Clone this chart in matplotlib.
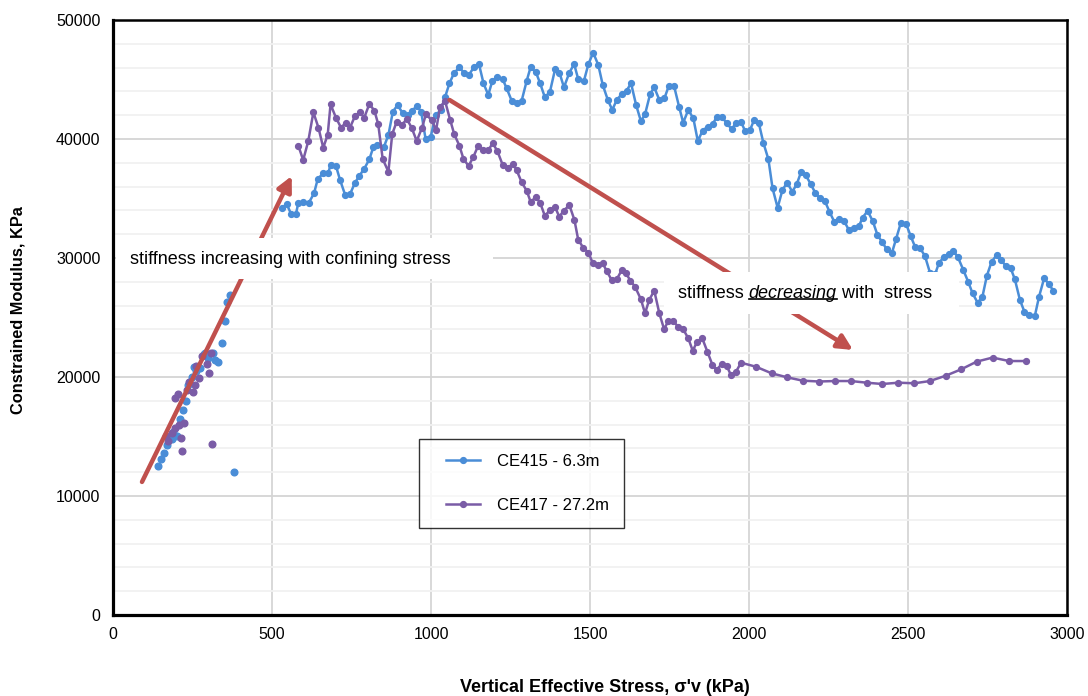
import matplotlib
matplotlib.use("Agg")
import matplotlib.pyplot as plt
from matplotlib.patches import Rectangle
from matplotlib.lines import Line2D
from matplotlib.legend_handler import HandlerLine2D
from matplotlib.ticker import MultipleLocator

plt.rcParams['font.family'] = ['Liberation Sans', 'DejaVu Sans']

# CE415 - 6.3m : continuous profile (stress kPa, constrained modulus kPa)
ce415_x = [530, 546, 560, 575, 583, 598, 616, 632, 644, 661, 677, 684, 701, 714, 730, 745, 761, 775,
           790, 806, 819, 831, 852, 866, 880, 895, 911, 927, 941, 955, 969, 983, 999, 1015, 1031, 1044,
           1058, 1072, 1089, 1105, 1119, 1136, 1151, 1165, 1180, 1193, 1209, 1225, 1238, 1254, 1269,
           1285, 1301, 1313, 1330, 1343, 1358, 1374, 1390, 1404, 1418, 1435, 1450, 1463, 1481, 1495,
           1510, 1526, 1540, 1556, 1570, 1584, 1600, 1615, 1629, 1645, 1660, 1673, 1689, 1702, 1718,
           1734, 1748, 1764, 1780, 1793, 1809, 1825, 1839, 1854, 1870, 1886, 1898, 1914, 1930, 1946,
           1959, 1975, 1987, 2003, 2016, 2031, 2045, 2061, 2074, 2090, 2105, 2120, 2136, 2150, 2164,
           2178, 2194, 2208, 2223, 2239, 2253, 2268, 2284, 2299, 2314, 2331, 2346, 2357, 2373, 2389,
           2404, 2419, 2433, 2449, 2462, 2477, 2494, 2508, 2522, 2538, 2553, 2569, 2585, 2597, 2613,
           2629, 2643, 2657, 2674, 2690, 2703, 2719, 2734, 2748, 2763, 2779, 2792, 2807, 2823, 2836,
           2852, 2866, 2882, 2899, 2912, 2928, 2943, 2957]
ce415_m = [34175, 34536, 33696, 33696, 34650, 34730, 34650, 35430, 36660, 37110, 37170, 37810, 37730,
           36550, 35290, 35350, 36330, 36920, 37500, 38290, 39350, 39520, 39350, 40340, 42300, 42850,
           42160, 42020, 42380, 42770, 42300, 39970, 40190, 42020, 42430, 43500, 44680, 45520, 46020,
           45520, 45380, 46080, 46270, 44680, 43700, 44900, 45180, 45040, 44250, 43190, 42990, 43210,
           44900, 46020, 45600, 44680, 43500, 43970, 45850, 45570, 44340, 45570, 46300, 45020, 44900,
           46300, 47250, 46220, 44540, 43280, 42440, 43280, 43780, 44060, 44680, 42850, 41500, 42070,
           43780, 44340, 43280, 43420, 44480, 44480, 42720, 41370, 42440, 41730, 39830, 40700, 41030,
           41260, 41820, 41880, 41320, 40810, 41370, 41450, 40700, 40750, 41590, 41320, 39690, 38290,
           35860, 34220, 35710, 36330, 35570, 36190, 37250, 36970, 36220, 35490, 35010, 34760, 33890,
           33050, 33280, 33110, 32350, 32490, 32690, 33390, 33950, 33110, 31930, 31320, 30730, 30390,
           31570, 32910, 32860, 31870, 30950, 30810, 30190, 28770, 28630, 29550, 30110, 30310, 30590,
           30060, 28990, 27950, 27030, 26240, 26740, 28510, 29690, 30250, 29830, 29360, 29130, 28210,
           26470, 25490, 25210, 25150, 26740, 28290, 27810, 27250]

# CE415 - 6.3m : shallow readings (points only)
ce415_pts_x = [140, 150, 160, 171, 185, 190, 200, 210, 219, 230, 237, 247, 255, 262, 274, 285, 290,
               300, 313, 321, 331, 342, 352, 359, 368, 380]
ce415_pts_m = [12550, 13080, 13590, 14290, 14800, 15400, 15070, 16500, 17230, 17980, 19330, 20030,
               20800, 20500, 20730, 21900, 22000, 21570, 21990, 21430, 21230, 22830, 24730, 26280,
               26890, 11990]

# CE417 - 27.2m : continuous profile
ce417_x = [583, 598, 614, 630, 646, 661, 675, 684, 701, 717, 732, 745, 761, 777, 790, 806, 822, 834,
           848, 866, 878, 892, 908, 924, 939, 955, 971, 984, 1002, 1016, 1028, 1044, 1060, 1073, 1089,
           1102, 1118, 1133, 1148, 1164, 1180, 1194, 1209, 1225, 1241, 1257, 1269, 1285, 1301, 1313,
           1330, 1343, 1358, 1374, 1390, 1403, 1418, 1435, 1451, 1463, 1479, 1495, 1509, 1524, 1540,
           1552, 1568, 1584, 1600, 1613, 1627, 1642, 1660, 1673, 1686, 1702, 1718, 1733, 1746, 1762,
           1778, 1793, 1809, 1823, 1837, 1853, 1869, 1885, 1898, 1914, 1930, 1943, 1959, 1975, 2022,
           2071, 2120, 2169, 2220, 2270, 2320, 2370, 2419, 2470, 2520, 2569, 2619, 2667, 2716, 2766,
           2818, 2870]
ce417_m = [39410, 38230, 39830, 42240, 40950, 39270, 40340, 42910, 41790, 40950, 41370, 40950, 41930,
           42240, 41790, 42940, 42380, 41230, 38320, 37250, 40420, 41450, 41170, 41680, 40950, 39830,
           40900, 42070, 41590, 40750, 42650, 43200, 41620, 40400, 39450, 38330, 37730, 38480, 39420,
           39040, 39040, 39660, 38960, 37840, 37530, 37920, 37390, 36360, 35650, 34730, 35100, 34650,
           33530, 34030, 34310, 33470, 33980, 34450, 33190, 31510, 30860, 30440, 29550, 29410, 29550,
           28930, 28150, 28210, 28990, 28710, 28100, 27560, 26530, 25350, 26470, 27250, 25350, 24010,
           24700, 24700, 24180, 24010, 23250, 22210, 22970, 23250, 22130, 21010, 20590, 21090, 20920,
           20170, 20440, 21200, 20860, 20310, 19970, 19690, 19620, 19660, 19660, 19520, 19410, 19520,
           19470, 19660, 20110, 20640, 21290, 21630, 21340, 21340]

# CE417 - 27.2m : shallow readings (points only)
ce417_pts_x = [167, 174, 185, 195, 208, 223, 213, 216, 195, 205, 232, 239, 251, 258, 261, 271, 279,
               294, 302, 307, 312]
ce417_pts_m = [15040, 14650, 15330, 15690, 15970, 16110, 14850, 13780, 18210, 18570, 18910, 19550,
               18770, 19330, 20950, 19890, 21760, 21090, 20310, 21990, 14370]

# Trend arrows (stress, modulus): tail -> head
trend_up = [(91, 11180), (562, 36890)]
trend_down = [(1058, 43280), (2327, 22270)]

BLUE = '#4A8DD7'
PURPLE = '#7A5CA6'
RED = '#C0504D'

fig = plt.figure(figsize=(10.88, 6.96), dpi=100)
ax = fig.add_axes([0.1039, 0.1164, 0.8768, 0.8549])

ax.set_xlim(0, 3000)
ax.set_ylim(0, 50000)
ax.xaxis.set_major_locator(MultipleLocator(500))
ax.yaxis.set_major_locator(MultipleLocator(10000))
ax.yaxis.set_minor_locator(MultipleLocator(2000))
ax.set_axisbelow(True)
ax.grid(axis='x', which='major', color='#D6D6D6', lw=1.3)
ax.grid(axis='y', which='major', color='#D4D4D4', lw=1.3)
ax.grid(axis='y', which='minor', color='#F1F1F1', lw=1.3)
ax.tick_params(which='both', length=0)
ax.tick_params(axis='y', pad=9, labelsize=11.5)
ax.tick_params(axis='x', pad=9, labelsize=11.5)
for side in ['left', 'bottom']:
    ax.spines[side].set_linewidth(2.3)
for side in ['top', 'right']:
    ax.spines[side].set_linewidth(1.8)
for s in ax.spines.values():
    s.set_color('black')

ms = 4.2
ax.plot(ce415_x, ce415_m, color=BLUE, lw=1.8, marker='o', ms=ms, label='CE415 - 6.3m', zorder=3)
ax.plot(ce417_x, ce417_m, color=PURPLE, lw=1.8, marker='o', ms=ms, label='CE417 - 27.2m', zorder=3)
ax.plot(ce415_pts_x, ce415_pts_m, ls='none', marker='o', ms=ms + 0.6, color=BLUE, zorder=3)
ax.plot(ce417_pts_x, ce417_pts_m, ls='none', marker='o', ms=ms + 0.6, color=PURPLE, zorder=3)

for tail, head in (trend_up, trend_down):
    ax.annotate('', xy=head, xytext=tail,
                arrowprops=dict(arrowstyle='-|>,head_length=0.9,head_width=0.45',
                                color=RED, lw=3.2, shrinkA=0, shrinkB=0),
                zorder=4)

# Text boxes
ax.add_patch(Rectangle((0.003, 0.565), 0.395, 0.069, transform=ax.transAxes,
                       facecolor='white', edgecolor='none', zorder=5))
ax.text(0.0178, 0.598, 'stiffness increasing with confining stress', transform=ax.transAxes,
        fontsize=13, va='center', ha='left', zorder=6)

ax.add_patch(Rectangle((0.578, 0.506), 0.309, 0.070, transform=ax.transAxes,
                       facecolor='white', edgecolor='none', zorder=5))
t1 = ax.text(0.592, 0.541, 'stiffness ', transform=ax.transAxes,
             fontsize=13, va='center', ha='left', zorder=6)
t2 = ax.annotate('decreasing', xy=(1, 0), xycoords=t1, va='bottom', ha='left',
                 fontsize=13, style='italic', zorder=6)
t3 = ax.annotate(' with  stress', xy=(1, 0), xycoords=t2, va='bottom', ha='left',
                 fontsize=13, zorder=6)

ax.set_xlabel("Vertical Effective Stress, σ'v (kPa)", fontsize=13, fontweight='bold')
ax.set_ylabel('Constrained Modulus, KPa', fontsize=11.8, fontweight='bold')
ax.xaxis.set_label_coords(0.516, -0.1227)
ax.yaxis.set_label_coords(-0.0996, 0.5126)
ax.xaxis.label.set_va('center')
ax.yaxis.label.set_va('center')

leg = ax.legend(loc='upper left', bbox_to_anchor=(0.321, 0.296), borderaxespad=0,
                fontsize=12, frameon=True, fancybox=False, numpoints=1,
                handler_map={Line2D: HandlerLine2D(xpad=0.72)},
                handlelength=2.77, handletextpad=1.0, labelspacing=1.73, borderpad=0.9)
leg.get_frame().set_edgecolor('black')
leg.get_frame().set_linewidth(1.0)

# underline the italic word
fig.canvas.draw()
r = fig.canvas.get_renderer()
bb = t2.get_window_extent(r)
inv = ax.transAxes.inverted()
(x0, y0), (x1, _) = inv.transform([(bb.x0, bb.y0 + 3), (bb.x1, bb.y0 + 3)])
ax.add_line(Line2D([x0, x1], [y0, y0], transform=ax.transAxes, color='black', lw=1.2, zorder=6))

fig.savefig('out.png', dpi=100)
